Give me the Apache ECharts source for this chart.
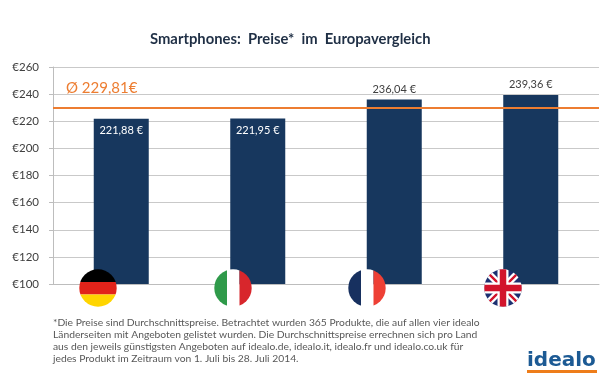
<!DOCTYPE html>
<html>
<head>
<meta charset="utf-8">
<style>
    html, body { margin: 0; padding: 0; background: #fff; }
    #chart { width: 610px; height: 379px; }
</style>
<script src="https://cdn.jsdelivr.net/npm/echarts@6/dist/echarts.min.js"></script>
</head>
<body>
<div id="chart"></div>
<script>
var countries = ['Deutschland', 'Italien', 'Frankreich', 'Großbritannien'];
var prices = [221.88, 221.95, 236.04, 239.36];
var priceLabels = ['221,88 €', '221,95 €', '236,04 €', '239,36 €'];
var average = 229.81;
var averageLabel = 'Ø 229,81€';
var titleText = 'Smartphones:  Preise*  im  Europavergleich';
var footnote = [
    '*Die Preise sind Durchschnittspreise. Betrachtet wurden 365 Produkte, die auf allen vier idealo',
    'Länderseiten mit Angeboten gelistet wurden. Die Durchschnittspreise errechnen sich pro Land',
    'aus den jeweils günstigsten Angeboten auf idealo.de, idealo.it, idealo.fr und idealo.co.uk für',
    'jedes Produkt im Zeitraum von 1. Juli bis 28. Juli 2014.'
];

var fontName = 'Lato';

// flaggen als svg, rund
function flag(body) {
    return 'data:image/svg+xml;charset=utf-8,' + encodeURIComponent(
        '<svg xmlns="http://www.w3.org/2000/svg" width="38" height="38" viewBox="0 0 38 38">' +
        '<defs><clipPath id="c"><circle cx="19" cy="19" r="18.7"/></clipPath></defs>' +
        '<g clip-path="url(#c)">' + body + '</g></svg>');
}
var flags = [
    flag('<rect width="38" height="13" fill="#000"/><rect y="13" width="38" height="12.5" fill="#e2231a"/><rect y="25.5" width="38" height="12.5" fill="#ffd500"/>'),
    flag('<rect width="13" height="38" fill="#2f9a4a"/><rect x="13" width="12.5" height="38" fill="#fff"/><rect x="25.5" width="12.5" height="38" fill="#d8262c"/>'),
    flag('<rect width="13" height="38" fill="#17305f"/><rect x="13" width="12.5" height="38" fill="#fff"/><rect x="25.5" width="12.5" height="38" fill="#ee4035"/>'),
    flag('<rect width="38" height="38" fill="#1c2f70"/>' +
        '<path d="M0 0L38 38M38 0L0 38" stroke="#fff" stroke-width="7"/>' +
        '<path d="M0 0L38 38M38 0L0 38" stroke="#d2142c" stroke-width="2.4"/>' +
        '<path d="M19 0V38M0 19H38" stroke="#fff" stroke-width="11"/>' +
        '<path d="M19 0V38M0 19H38" stroke="#d2142c" stroke-width="6.5"/>')
];
var flagX = [79, 214, 348, 484];

var chart = echarts.init(document.getElementById('chart'));

var graphics = [];
flags.forEach(function (src, i) {
    graphics.push({
        type: 'image',
        left: flagX[i],
        top: 269,
        z: 10,
        style: { image: src, width: 38, height: 38 }
    });
});
footnote.forEach(function (line, i) {
    graphics.push({
        type: 'text',
        left: 53,
        top: 318 + i * 11.8,
        style: { text: line, fill: '#585858', font: '10.3px ' + fontName }
    });
});
// logo
graphics.push({
    type: 'text',
    left: 527,
    top: 351,
    style: { text: 'idealo', fill: '#1c5a94', font: 'bold 20px "DejaVu Sans"' }
});
graphics.push({
    type: 'rect',
    left: 527,
    top: 370,
    shape: { width: 70, height: 3 },
    style: { fill: '#ee7d1a' }
});

var option = {
    backgroundColor: '#fff',
    animation: false,
    textStyle: { fontFamily: fontName },
    title: {
        text: titleText,
        left: 145,
        top: 27,
        textStyle: { color: '#1f2f45', fontSize: 14.8, fontWeight: 'bold', fontFamily: fontName }
    },
    grid: { left: 53, right: 11, top: 67, bottom: 95 },
    xAxis: {
        type: 'category',
        data: countries,
        axisLine: { lineStyle: { color: '#bdbdbd' } },
        axisTick: { length: 4, lineStyle: { color: '#bdbdbd' } },
        axisLabel: { show: false }
    },
    yAxis: {
        type: 'value',
        min: 100,
        max: 260,
        interval: 20,
        axisLine: { show: true, lineStyle: { color: '#bdbdbd' } },
        axisTick: { show: true, length: 4, lineStyle: { color: '#bdbdbd' } },
        axisLabel: { formatter: '€{value}', color: '#404040', fontSize: 11.5, margin: 14 },
        splitLine: { lineStyle: { color: '#c9c9c9', width: 1 } }
    },
    series: [{
        type: 'bar',
        barWidth: 55,
        itemStyle: { color: '#17375e' },
        data: prices.map(function (v, i) {
            var inside = i < 2;
            return {
                value: v,
                label: {
                    show: true,
                    position: inside ? 'insideTop' : 'top',
                    distance: inside ? 6 : 5,
                    color: inside ? '#fff' : '#404040',
                    fontSize: 11,
                    formatter: priceLabels[i]
                }
            };
        }),
        markLine: {
            silent: true,
            symbol: 'none',
            lineStyle: { color: '#ed7d31', width: 2, type: 'solid' },
            label: {
                show: true,
                position: 'insideStartTop',
                distance: [13, 12],
                color: '#ed7d31',
                fontSize: 15,
                formatter: averageLabel
            },
            data: [{ yAxis: average }]
        }
    }],
    graphic: graphics
};
chart.setOption(option);
</script>
</body>
</html>
